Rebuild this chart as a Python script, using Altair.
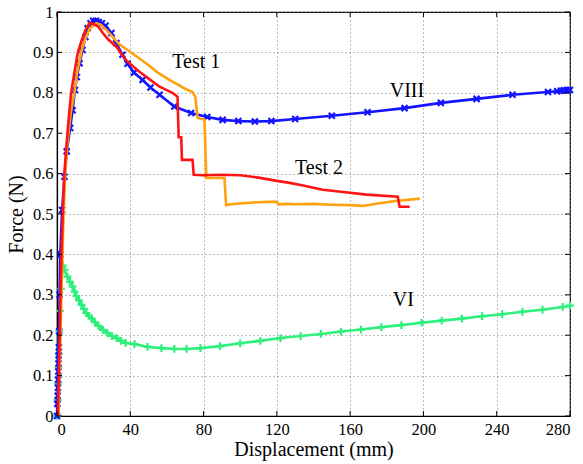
import altair as alt
import pandas as pd

# ---- data ----
viii_x = [0, 0.2, 0.35, 0.5, 0.6, 0.7, 0.8, 0.9, 1.0, 1.2, 1.4, 1.8, 2.8, 4.1, 5.3, 7.2, 8.5, 9.8,
          10.8, 12.3, 13.9, 15.5, 16.7, 18.3, 19.8, 21.3, 22.8, 24.5, 26.5, 29.7, 32.4, 35.7, 38.5,
          42, 46.7, 51, 56, 64, 73.2, 82, 90.4, 99, 108, 117, 130, 150, 169.5, 189.7, 209.5, 229,
          248.6, 268, 273, 275, 276.5, 278, 279, 280]
viii_y = [0, 0.03, 0.05, 0.07, 0.09, 0.11, 0.13, 0.15, 0.17, 0.21, 0.3, 0.4, 0.51, 0.592, 0.655,
          0.713, 0.757, 0.807, 0.839, 0.873, 0.906, 0.938, 0.96, 0.972, 0.978, 0.978, 0.975, 0.972,
          0.966, 0.948, 0.923, 0.894, 0.872, 0.85, 0.832, 0.813, 0.795, 0.766, 0.75, 0.74, 0.733,
          0.73, 0.729, 0.73, 0.735, 0.743, 0.752, 0.762, 0.775, 0.785, 0.795, 0.802, 0.804, 0.805,
          0.806, 0.806, 0.807, 0.807]

vi_x = [0, 0.3, 0.5, 0.7, 0.9, 1.2, 1.6, 2.2, 3.2, 4.2, 5.7, 7.1, 8.5, 9.6, 10.6, 12, 13.4, 14.7,
        16, 17.4, 18.8, 20.7, 22.7, 25, 27.6, 30, 32.5, 35, 37.4, 42.3, 49.4, 57, 64, 70.7, 78.3,
        89, 100, 111, 122, 133, 144, 155, 166, 177, 188, 199, 210, 221, 232, 243, 254, 265, 276, 280]
vi_y = [0, 0.04, 0.08, 0.12, 0.153, 0.21, 0.26, 0.315, 0.372, 0.362, 0.345, 0.332, 0.32, 0.308,
        0.297, 0.286, 0.275, 0.265, 0.255, 0.248, 0.242, 0.232, 0.223, 0.213, 0.205, 0.198, 0.193,
        0.186, 0.181, 0.178, 0.171, 0.168, 0.166, 0.166, 0.168, 0.173, 0.18, 0.186, 0.193, 0.198,
        0.203, 0.209, 0.214, 0.22, 0.225, 0.231, 0.236, 0.241, 0.247, 0.252, 0.258, 0.263, 0.27,
        0.273]

test1_x = [0.8, 1.3, 1.9, 2.4, 3, 3.6, 4.5, 5.8, 7.5, 9.5, 11, 13.2, 15.5, 18, 21.4, 24, 27, 30,
           34, 38.5, 45, 50, 55, 61.4, 66, 70, 74, 75.5, 76.7, 80.5, 81.5, 91.4, 92.3, 95, 100, 105,
           110, 115, 120, 121, 125, 130, 140, 150, 160, 167, 175, 185, 198]
test1_y = [0, 0.1, 0.2, 0.3, 0.4, 0.5, 0.6, 0.68, 0.75, 0.8, 0.85, 0.9, 0.935, 0.96, 0.972, 0.968,
           0.955, 0.94, 0.92, 0.906, 0.885, 0.868, 0.85, 0.832, 0.82, 0.81, 0.802, 0.79, 0.738,
           0.733, 0.589, 0.589, 0.522, 0.524, 0.526, 0.528, 0.529, 0.53, 0.53, 0.524, 0.525, 0.524,
           0.525, 0.523, 0.522, 0.52, 0.526, 0.532, 0.538]

test2_x = [0.5, 1.0, 1.5, 2, 2.5, 3.2, 4, 5, 6.8, 7.7, 9.5, 11.4, 13.5, 15.5, 17.7, 20, 22, 23.2,
           25, 28, 32.4, 37.8, 45, 50, 56, 63, 65.8, 66.4, 67.8, 68.2, 74, 74.6, 80, 90, 100, 110,
           120, 127, 135, 145, 155, 169, 186, 187, 192.5]
test2_y = [0, 0.1, 0.2, 0.32, 0.41, 0.51, 0.6, 0.66, 0.757, 0.8, 0.85, 0.9, 0.93, 0.955, 0.973,
           0.97, 0.965, 0.96, 0.948, 0.932, 0.914, 0.88, 0.852, 0.835, 0.815, 0.8, 0.79, 0.69,
           0.69, 0.634, 0.634, 0.597, 0.596, 0.597, 0.596, 0.59, 0.582, 0.577, 0.57, 0.56, 0.555,
           0.548, 0.543, 0.518, 0.518]

label_text = ["Test 1", "Test 2", "VIII", "VI"]
label_x = [76, 143, 191, 189]
label_y = [0.876, 0.614, 0.804, 0.287]

x_ticks = [0, 40, 80, 120, 160, 200, 240, 280]
y_ticks = [0, 0.1, 0.2, 0.3, 0.4, 0.5, 0.6, 0.7, 0.8, 0.9, 1.0]

W, H = 513, 404
FONT = "Liberation Serif"

xs = alt.Scale(domain=[0, 280], nice=False, zero=False)
ys = alt.Scale(domain=[0, 1], nice=False, zero=False)

df_viii = pd.DataFrame({"x": viii_x, "y": viii_y, "o": range(len(viii_x))})
df_vi = pd.DataFrame({"x": vi_x, "y": vi_y, "o": range(len(vi_x))})
df_t1 = pd.DataFrame({"x": test1_x, "y": test1_y, "o": range(len(test1_x))})
df_t2 = pd.DataFrame({"x": test2_x, "y": test2_y, "o": range(len(test2_x))})
df_lab = pd.DataFrame({"t": label_text, "x": label_x, "y": label_y})
df_xt = pd.DataFrame({"x": x_ticks})
df_yt = pd.DataFrame({"y": y_ticks})

X = alt.X("x:Q", scale=xs, title="Displacement (mm)",
          axis=alt.Axis(values=x_ticks, grid=True, ticks=False))
Y = alt.Y("y:Q", scale=ys, title="Force (N)",
          axis=alt.Axis(values=y_ticks, grid=True, ticks=False,
                        labelExpr="datum.value == 0 ? '0' : datum.value == 1 ? '1' : format(datum.value, '.1f')"))

BLUE = "#1414ff"
GREEN = "#2ef07c"
ORANGE = "#ffa20e"
RED = "#ff1414"

XMARK = "M-1,-1L1,1M1,-1L-1,1"
PLUS = "M-1,0L1,0M0,-1L0,1"

def line(df, color, width=2.6):
    return alt.Chart(df).mark_line(color=color, strokeWidth=width).encode(
        x=X, y=Y, order="o:Q")

def pts(df, color, shape, size):
    return alt.Chart(df).mark_point(shape=shape, color=color, filled=False,
                                    strokeWidth=2.2, size=size, opacity=1).encode(x=X, y=Y)

layers = [
    line(df_vi, GREEN), pts(df_vi, GREEN, PLUS, 60),
    line(df_viii, BLUE), pts(df_viii, BLUE, XMARK, 36),
    line(df_t1, ORANGE),
    line(df_t2, RED),
    alt.Chart(df_lab).mark_text(font=FONT, fontSize=20, color="black").encode(
        x=X, y=Y, text="t:N"),
    # inward ticks (MATLAB style)
    alt.Chart(df_xt).mark_rule(color="black", strokeWidth=1).encode(
        x=X, y=alt.value(H), y2=alt.value(H - 5)),
    alt.Chart(df_xt).mark_rule(color="black", strokeWidth=1).encode(
        x=X, y=alt.value(0), y2=alt.value(5)),
    alt.Chart(df_yt).mark_rule(color="black", strokeWidth=1).encode(
        y=Y, x=alt.value(0), x2=alt.value(5)),
    alt.Chart(df_yt).mark_rule(color="black", strokeWidth=1).encode(
        y=Y, x=alt.value(W), x2=alt.value(W - 5)),
]

chart = alt.layer(*layers).properties(
    width=W, height=H,
    autosize=alt.AutoSizeParams(type="none"),
    padding={"left": 57, "top": 12, "right": 13, "bottom": 48},
    background="white",
).configure_view(
    stroke="black", strokeWidth=1.2
).configure_axis(
    labelFont=FONT, labelFontSize=16.5, labelColor="black",
    titleFont=FONT, titleFontSize=20, titleColor="black", titleFontWeight="normal",
    domainColor="black", domainWidth=1.2,
    gridColor="#777777", gridDash=[1, 3], gridWidth=1,
).configure_axisX(
    labelPadding=5, titlePadding=2
).configure_axisY(
    labelPadding=4, titlePadding=6
)

chart.save("out.html", embed_options={"renderer": "svg", "actions": False})
